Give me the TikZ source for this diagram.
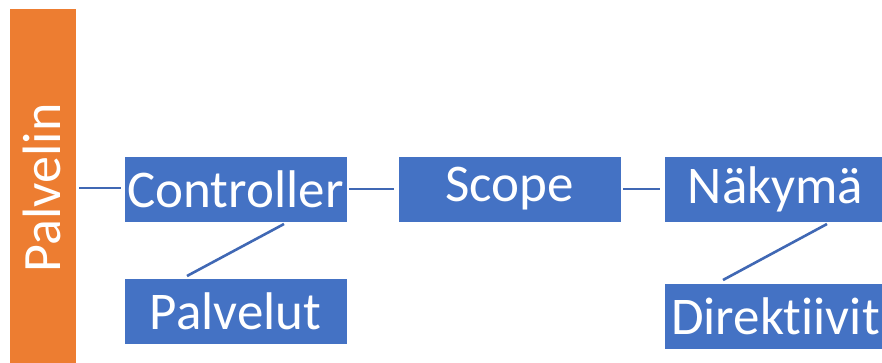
\documentclass[tikz,border=0pt]{standalone}
\usepackage{fontspec}
\setmainfont{Carlito}[Ligatures=NoCommon]
\definecolor{boxblue}{HTML}{4472C4}
\definecolor{linkblue}{HTML}{4068B4}
\definecolor{barorange}{HTML}{ED7D31}
\begin{document}
\begin{tikzpicture}[x=1pt,y=-1pt,
  box/.style={rectangle, fill=boxblue, draw=white, line width=0.8pt,
    text=white, minimum width=223pt, minimum height=66pt, inner sep=0pt,
    font=\fontsize{53}{60}\selectfont},
  link/.style={draw=linkblue, line width=2.6pt}]
\useasboundingbox (0,0) rectangle (882,363);
\clip (0,0) rectangle (882,363);
% server bar
\node[rectangle, fill=barorange, minimum width=66pt, minimum height=370pt,
  inner sep=0pt, anchor=north west] (bar) at (10,9) {};
\node[text=white, rotate=90, font=\fontsize{54}{60}\selectfont] (barlabel) at (42,188) {Palvelin};
% blocks
\node[box] (ctrl) at (235.5,189) {Controller};
\node[box] (scope) at (509.5,189) {Scope};
\node[box] (view) at (775.5,189) {Näkymä};
\node[box] (serv) at (235.5,311) {Palvelut};
\node[box] (dir) at (775.5,316) {Direktiivit};
% connectors
\coordinate (barR) at (79,188);
\coordinate (ctrlL) at (121,188);
\draw[link] (barR) -- (ctrlL);
\draw[link] ([xshift=2pt]ctrl.east) -- ([xshift=-4pt]scope.west);
\draw[link] ([xshift=2pt]scope.east) -- ([xshift=-4pt]view.west);
\coordinate (ctrlD) at (284,224);
\coordinate (servU) at (187,276);
\draw[link] (ctrlD) -- (servU);
\coordinate (viewD) at (827,224);
\coordinate (dirU) at (723,280);
\draw[link] (viewD) -- (dirU);
\end{tikzpicture}
\end{document}
